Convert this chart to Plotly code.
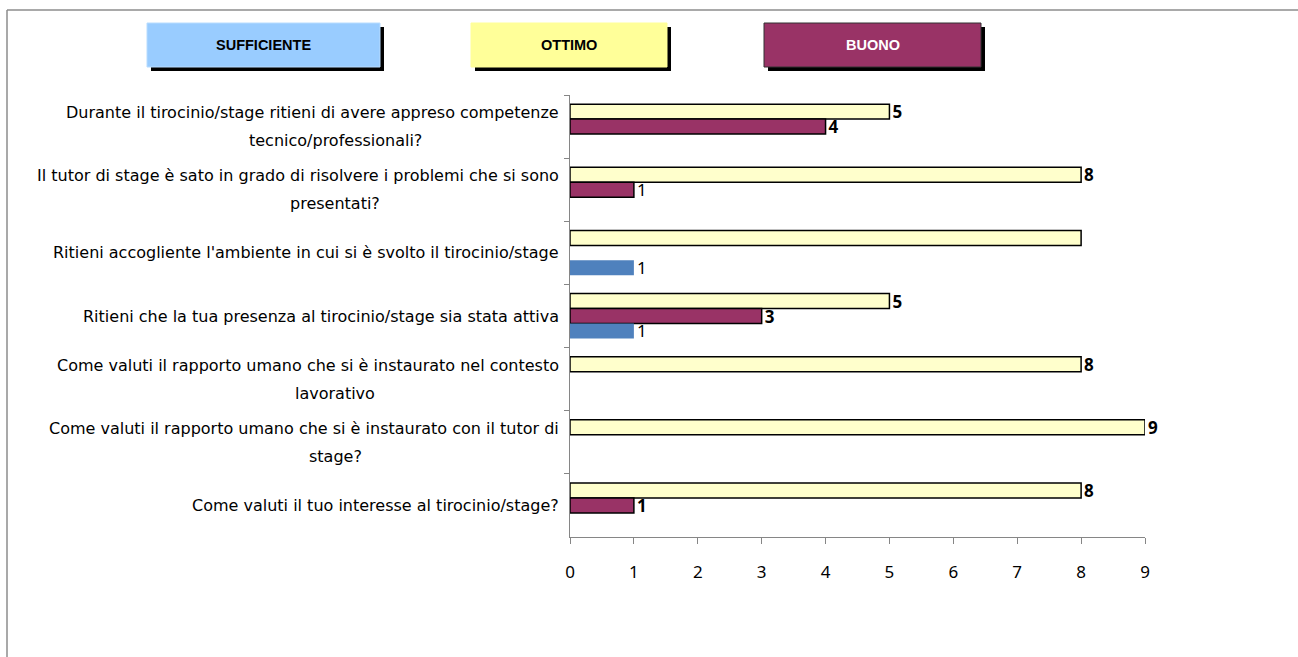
import plotly.graph_objects as go

# ---------------- data ----------------
categories = [
    "Durante il tirocinio/stage ritieni di avere appreso competenze<br>tecnico/professionali?",
    "Il tutor di stage è sato in grado di risolvere i problemi che si sono<br>presentati?",
    "Ritieni accogliente l'ambiente in cui si è svolto il tirocinio/stage",
    "Ritieni che la tua presenza al tirocinio/stage sia stata attiva",
    "Come valuti il rapporto umano che si è instaurato nel contesto<br>lavorativo",
    "Come valuti il rapporto umano che si è instaurato con il tutor di<br>stage?",
    "Come valuti il tuo interesse al tirocinio/stage?",
]
ottimo = [5, 8, 8, 5, 8, 9, 8]
buono = [4, 1, None, 3, None, None, 1]
sufficiente = [None, None, 1, 1, None, None, None]
x_ticks = [0, 1, 2, 3, 4, 5, 6, 7, 8, 9]
legend_labels = ["SUFFICIENTE", "OTTIMO", "BUONO"]

# label styles (bold / hidden) per point
ottimo_style = ["b", "b", "hide", "b", "b", "b", "b"]
buono_style = ["b", "n", "n", "b", "n", "n", "b"]
suff_style = ["n", "n", "n", "n", "n", "n", "n"]

# ---------------- layout geometry ----------------
W, H = 1298, 657
L, R, T, B = 570, 153, 95, 120
PW, PH = W - L - R, H - T - B


def px(x):
    return (x - L) / PW


def py(y):
    return (H - B - y) / PH


def labels(vals, style):
    out = []
    for v, s in zip(vals, style):
        if v is None or s == "hide":
            out.append("")
        elif s == "b":
            out.append(f"<b>{v}</b>")
        else:
            out.append(str(v))
    return out


FONT = "DejaVu Sans"
FONT2 = "Noto Sans"
fig = go.Figure()
series = [
    ("OTTIMO", ottimo, ottimo_style, "#FFFFCC", dict(color="black", width=1.5)),
    ("BUONO", buono, buono_style, "#993366", dict(color="black", width=1.5)),
    ("SUFFICIENTE", sufficiente, suff_style, "#4F81BD", dict(width=0)),
]
for name, vals, style, color, line in series:
    fig.add_trace(go.Bar(
        name=name, y=categories, x=vals, orientation="h",
        marker=dict(color=color, line=line),
        text=labels(vals, style), textposition="outside",
        textfont=dict(family=FONT2, size=17, color="black"),
        cliponaxis=False, constraintext="none",
    ))

fig.update_layout(
    width=W, height=H,
    margin=dict(l=L, r=R, t=T, b=B, pad=0),
    paper_bgcolor="white", plot_bgcolor="white",
    barmode="group", bargap=0.29, bargroupgap=0,
    showlegend=False,
    font=dict(family=FONT2, size=14, color="black"),
    xaxis=dict(range=[0, 9], tickvals=x_ticks, showgrid=False, zeroline=False,
               showline=True, linecolor="#868686", linewidth=1,
               ticks="outside", ticklen=6, tickcolor="#868686",
               tickfont=dict(family=FONT2, size=17), ticklabelstandoff=14),
    yaxis=dict(autorange="reversed", showgrid=False, zeroline=False,
               showline=True, linecolor="#868686", linewidth=1,
               ticks="outside", ticklen=5, tickcolor="#868686",
               tickson="boundaries", showticklabels=False),
)

# category labels (one annotation per line)
LINE_SP = 28
for cat in categories:
    lines = cat.split("<br>")
    n = len(lines)
    for i, ln in enumerate(lines):
        yshift = ((n - 1) / 2 - i) * LINE_SP
        if i == 0:
            fig.add_annotation(x=px(561), xref="paper", y=cat, yref="y",
                               text=ln, showarrow=False, xanchor="right",
                               yanchor="middle", yshift=yshift,
                               font=dict(family=FONT, size=16, color="black"))
        else:
            fig.add_annotation(x=px(335), xref="paper", y=cat, yref="y",
                               text=ln, showarrow=False, xanchor="center",
                               yanchor="middle", yshift=yshift,
                               font=dict(family=FONT, size=16, color="black"))

# outer frame (top and left edges visible)
fig.add_shape(type="line", xref="paper", yref="paper",
              x0=px(7), x1=px(W + 5), y0=py(10), y1=py(10),
              line=dict(color="#8C8C8C", width=1.5))
fig.add_shape(type="line", xref="paper", yref="paper",
              x0=px(7), x1=px(7), y0=py(10), y1=py(H + 5),
              line=dict(color="#8C8C8C", width=1.5))

# custom legend boxes
boxes = [
    (legend_labels[0], 147, 380, "#99CCFF", "#B8DCFF", "black"),
    (legend_labels[1], 471, 667, "#FFFF99", "#FFFF99", "black"),
    (legend_labels[2], 764, 981, "#993366", "#333333", "white"),
]
by0, by1, sh = 23, 67, 4
for text, x0, x1, fill, lc, tc in boxes:
    fig.add_shape(type="rect", xref="paper", yref="paper",
                  x0=px(x0 + sh), x1=px(x1 + sh), y0=py(by1 + sh), y1=py(by0 + sh),
                  fillcolor="black", line=dict(width=0))
    fig.add_shape(type="rect", xref="paper", yref="paper",
                  x0=px(x0), x1=px(x1), y0=py(by1), y1=py(by0),
                  fillcolor=fill, line=dict(color=lc, width=1))
    fig.add_annotation(x=px((x0 + x1) / 2), y=py((by0 + by1) / 2),
                       xref="paper", yref="paper", text=f"<b>{text}</b>",
                       showarrow=False, xanchor="center", yanchor="middle",
                       font=dict(family="Liberation Sans", size=14.5, color=tc))

fig.write_html("out.html", config={"displayModeBar": False},
               post_script="document.body.style.margin='0';")
